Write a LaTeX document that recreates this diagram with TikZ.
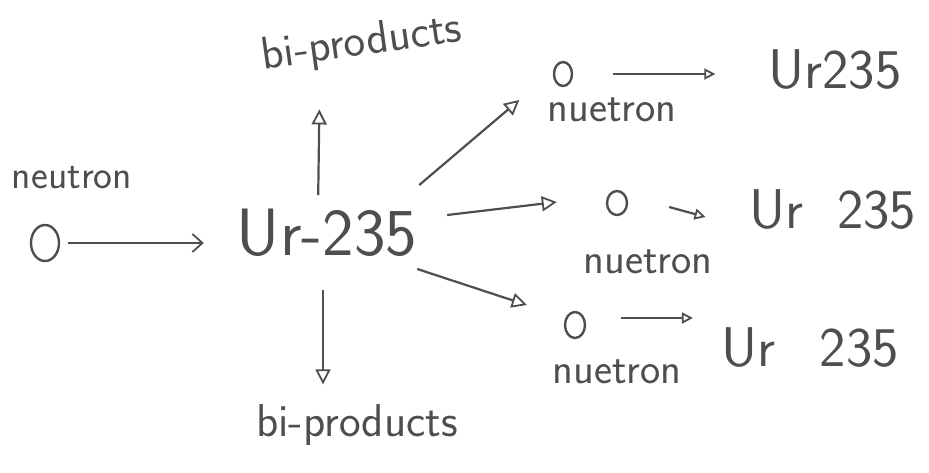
\documentclass[tikz,border=0pt]{standalone}
\usetikzlibrary{arrows.meta,shapes.geometric}
\definecolor{ink}{HTML}{4E4E4E}
\newcommand{\fs}[1]{\sffamily\fontsize{#1}{#1}\selectfont}
\begin{document}
\begin{tikzpicture}[x=1pt,y=-1pt,
  every node/.style={text=ink, inner sep=0pt},
  arr/.style={draw=ink, line width=2.2pt, -{Triangle[open,length=15pt,width=15pt,line width=1.8pt]}},
  arrs/.style={draw=ink, line width=2.2pt, -{Triangle[open,length=11pt,width=11pt,line width=1.8pt]}},
  arrl/.style={draw=ink, line width=2.2pt, -{Straight Barb[length=10pt,width=18pt,line width=1.8pt]}},
  part/.style={ellipse, draw=ink, line width=2.4pt}]
\useasboundingbox (0,0) rectangle (929,472);
% nodes
\node[part, minimum width=28pt, minimum height=36pt] (n0) at (45,243) {};
\node[font=\fs{40}] (nl) at (72,178) {neutron};
\node[font=\fs{67}] (ur) at (327,233) {Ur-235};
\node[font=\fs{46}, rotate=8] (bp1) at (362,44) {bi-products};
\node[font=\fs{46}] (bp2) at (357,425) {bi-products};
\node[part, minimum width=18pt, minimum height=24pt] (o1) at (563,74) {};
\node[font=\fs{43}] (t1) at (612,110) {nuetron};
\node[font=\fs{56}] (u1) at (835,70) {Ur235};
\node[part, minimum width=20pt, minimum height=24pt] (o2) at (617,203) {};
\node[font=\fs{43}] (t2) at (648,262) {nuetron};
\node[font=\fs{56}] (u2) at (833,210) {Ur\hspace{0.6em}235};
\node[part, minimum width=20pt, minimum height=26pt] (o3) at (575,325) {};
\node[font=\fs{43}] (t3) at (617,372) {nuetron};
\node[font=\fs{56}] (u3) at (810,348) {Ur\hspace{0.8em}235};
% connectors
\draw[arrl, shorten <=8pt, shorten >=33pt] (n0.east) -- (n0.east -| ur.west);
\draw[arr, shorten <=14pt, shorten >=45pt] ([xshift=-9pt]ur.north) -- ([xshift=-7pt]ur.north |- bp1.south);
\draw[arr, shorten <=33pt, shorten >=20pt] ([xshift=-4pt]ur.south) -- ([xshift=-4pt]ur.south |- bp2.north);
\draw[arr] ([xshift=2pt,yshift=24pt]ur.north east) -- ([xshift=-28pt,yshift=10pt]t1.west);
\draw[arr] ([xshift=30pt,yshift=18pt]ur.east) -- ([xshift=-49pt,yshift=1pt]o2.west);
\draw[arr] ([xshift=0pt,yshift=-12pt]ur.south east) -- ([xshift=-37pt,yshift=20pt]o3.west);
\draw[arrs, shorten <=40pt, shorten >=53pt] (o1.east) -- (o1.east -| u1.west);
\draw[arrs] ([xshift=41pt,yshift=-4pt]o2.east) -- ([xshift=-44pt,yshift=-7pt]u2.west);
\draw[arrs] ([xshift=35pt,yshift=7pt]o3.east) -- ([xshift=-28pt,yshift=30pt]u3.west);
\end{tikzpicture}
\end{document}
